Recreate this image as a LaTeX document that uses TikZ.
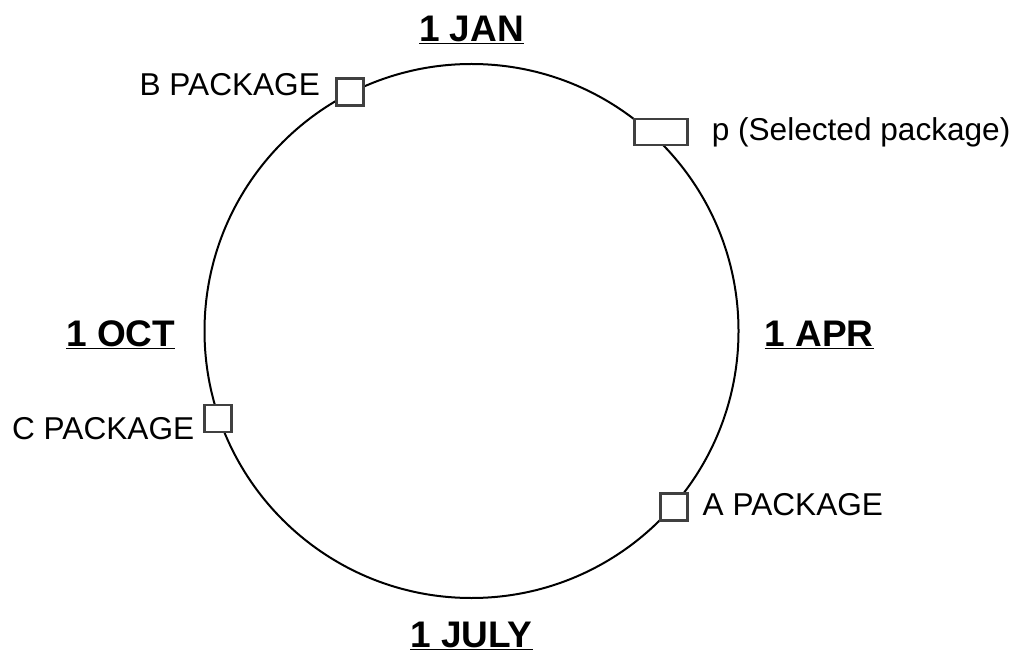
\documentclass[tikz,border=0pt]{standalone}
\usepackage{fontspec}
\setmainfont{Liberation Sans}
\usetikzlibrary{positioning}

\begin{document}
\begin{tikzpicture}[
   x=1pt, y=1pt,
   ring/.style={circle, draw=black, line width=2pt, inner sep=0pt,
                minimum size=534pt},
   pkg/.style={rectangle, draw=black!75, line width=2.5pt, fill=white,
               inner sep=0pt, minimum width=27pt, minimum height=27pt},
   pkglabel/.style={inner sep=0pt, font=\fontsize{31.6}{38}\selectfont},
   monthlabel/.style={inner sep=0pt, font=\fontsize{37}{44}\selectfont\bfseries}
]
\useasboundingbox (0,0) rectangle (1019,662);
% Year
\node[ring] (yearring) at (471.5,331) {};
% Months
\node[monthlabel, above=19pt of yearring] (jan) {\underline{1 JAN}};
\node[monthlabel, right=25pt of yearring, yshift=-4pt] (apr) {\underline{1 APR}};
\node[monthlabel, below=23pt of yearring] (jul) {\underline{1 JULY}};
\node[monthlabel, left=28pt of yearring, yshift=-4pt] (oct) {\underline{1 OCT}};
% Packages
\node[pkg] (bpkg) at (yearring.117.8) {};
\node[pkg, minimum width=53pt, minimum height=26pt, xshift=10pt] (ppkg) at (yearring.48) {};
\node[pkg] (apkg) at (yearring.-41.3) {};
\node[pkg] (cpkg) at (yearring.199.4) {};
\node[pkglabel, left=15pt of bpkg, yshift=8pt] (blabel) {B PACKAGE};
\node[pkglabel, right=23pt of ppkg] (plabel) {p (Selected package)};
\node[pkglabel, right=14pt of apkg, yshift=2.5pt] (alabel) {A PACKAGE};
\node[pkglabel, left=9pt of cpkg, yshift=-10pt] (clabel) {C PACKAGE};
\end{tikzpicture}
\end{document}
